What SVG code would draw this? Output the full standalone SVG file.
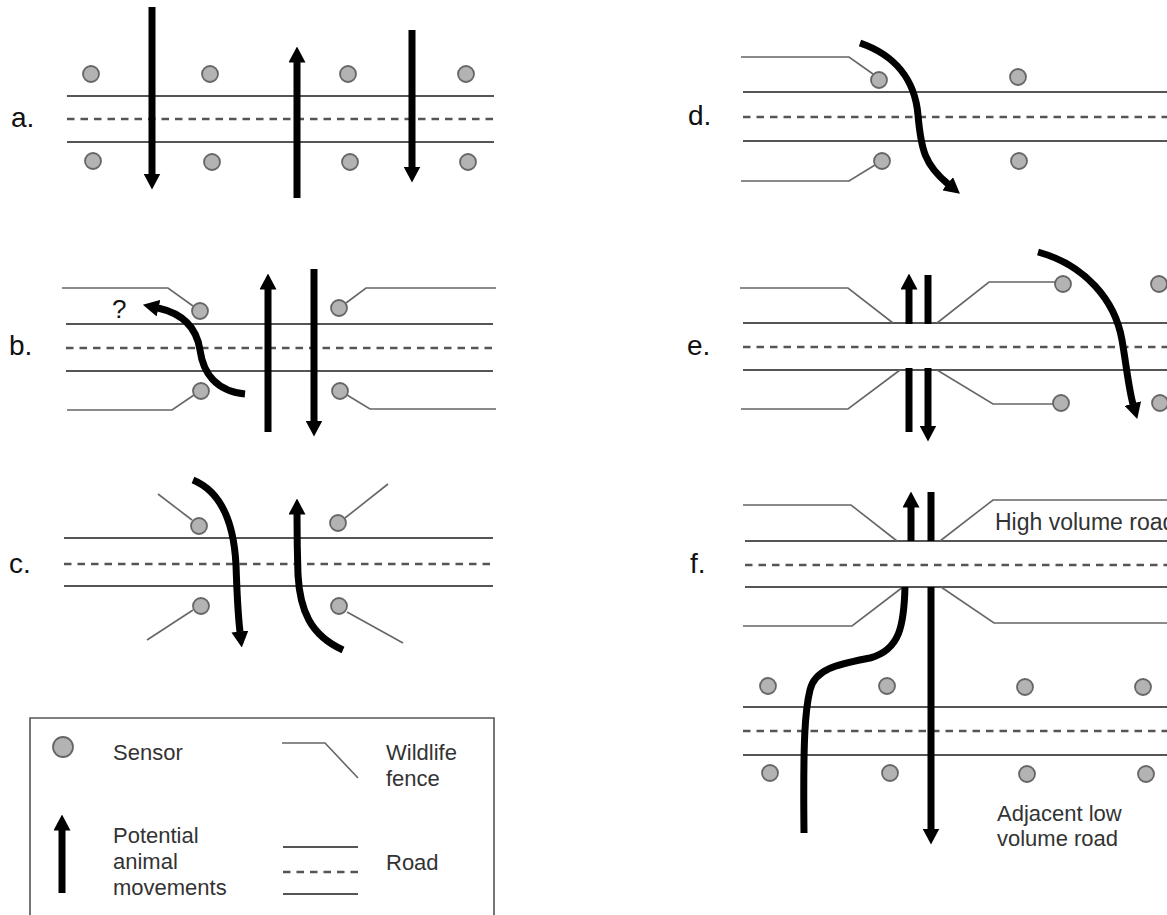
<svg xmlns="http://www.w3.org/2000/svg" width="1167" height="915" viewBox="0 0 1167 915">
<defs>
<marker id="ah" markerUnits="userSpaceOnUse" viewBox="0 0 16 17" markerWidth="16" markerHeight="17" refX="0.5" refY="8.5" orient="auto">
<path d="M0,0 L16,8.5 L0,17 z" fill="#000"/>
</marker>
</defs>
<style>
.road{stroke:#555;stroke-width:2;fill:none}
.dash{stroke:#555;stroke-width:2.5;fill:none;stroke-dasharray:7.5 6}
.fence{stroke:#666;stroke-width:1.6;fill:none}
.sensor{fill:#b3b3b3;stroke:#666;stroke-width:1.8}
.mv{stroke:#000;stroke-width:7;fill:none}
.mvh{stroke:#000;stroke-width:7;fill:none;marker-end:url(#ah)}
.lab{font-family:"Liberation Sans",Arial,sans-serif;font-size:28px;fill:#111}
.txt{font-family:"Liberation Sans",Arial,sans-serif;font-size:22px;fill:#333}
</style>
<rect width="1167" height="915" fill="#fff"/>

<g id="panel-a">
<text class="lab" x="11" y="127">a.</text>
<line class="road" x1="67" y1="96" x2="494" y2="96"/>
<line class="dash" x1="67" y1="119" x2="494" y2="119"/>
<line class="road" x1="67" y1="142" x2="494" y2="142"/>
<circle class="sensor" cx="91" cy="74" r="8"/>
<circle class="sensor" cx="210" cy="74" r="8"/>
<circle class="sensor" cx="348" cy="74" r="8"/>
<circle class="sensor" cx="466" cy="74" r="8"/>
<circle class="sensor" cx="93" cy="161" r="8"/>
<circle class="sensor" cx="212" cy="162" r="8"/>
<circle class="sensor" cx="350" cy="162" r="8"/>
<circle class="sensor" cx="468" cy="162" r="8"/>
</g>

<g id="panel-b">
<text class="lab" x="9" y="355">b.</text>
<line class="road" x1="66" y1="324" x2="493" y2="324"/>
<line class="dash" x1="66" y1="348" x2="493" y2="348"/>
<line class="road" x1="66" y1="371" x2="493" y2="371"/>
<polyline class="fence" points="62,288 168,288 193,306"/>
<polyline class="fence" points="67,410 172,410 194,395"/>
<polyline class="fence" points="346,303 366,288 496,288"/>
<polyline class="fence" points="347,395 370,409 496,409"/>
<circle class="sensor" cx="200" cy="311" r="8"/>
<circle class="sensor" cx="201" cy="391" r="8"/>
<circle class="sensor" cx="339" cy="308" r="8"/>
<circle class="sensor" cx="340" cy="391" r="8"/>
<text class="lab" x="112" y="318" style="font-size:26px">?</text>
</g>

<g id="panel-c">
<text class="lab" x="9" y="573">c.</text>
<line class="road" x1="64" y1="538" x2="493" y2="538"/>
<line class="dash" x1="64" y1="564" x2="493" y2="564"/>
<line class="road" x1="64" y1="586" x2="493" y2="586"/>
<line class="fence" x1="158" y1="494" x2="192" y2="520"/>
<line class="fence" x1="345" y1="518" x2="388" y2="484"/>
<line class="fence" x1="147" y1="640" x2="193" y2="610"/>
<line class="fence" x1="347" y1="612" x2="403" y2="643"/>
<circle class="sensor" cx="199" cy="526" r="8"/>
<circle class="sensor" cx="338" cy="523" r="8"/>
<circle class="sensor" cx="201" cy="606" r="8"/>
<circle class="sensor" cx="339" cy="606" r="8"/>
</g>

<g id="legend">
<path d="M30,918 V718 H494 V918" fill="none" stroke="#555" stroke-width="1.6"/>
<circle class="sensor" cx="63" cy="747" r="10"/>
<text class="txt" x="113" y="760">Sensor</text>
<polyline class="fence" points="282,743 325,743 358,778"/>
<text class="txt" x="386" y="760">Wildlife</text>
<text class="txt" x="386" y="786">fence</text>
<text class="txt" x="113" y="843">Potential</text>
<text class="txt" x="113" y="869">animal</text>
<text class="txt" x="113" y="895">movements</text>
<line class="road" x1="283" y1="847" x2="358" y2="847"/>
<line class="dash" x1="283" y1="872" x2="358" y2="872"/>
<line class="road" x1="283" y1="894" x2="358" y2="894"/>
<text class="txt" x="386" y="870">Road</text>
</g>

<g id="panel-d">
<text class="lab" x="688" y="125">d.</text>
<line class="road" x1="743" y1="92" x2="1167" y2="92"/>
<line class="dash" x1="743" y1="117" x2="1167" y2="117"/>
<line class="road" x1="743" y1="141" x2="1167" y2="141"/>
<polyline class="fence" points="741,57 849,57 873,74"/>
<polyline class="fence" points="741,181 849,181 875,165"/>
<circle class="sensor" cx="879" cy="80" r="8"/>
<circle class="sensor" cx="882" cy="161" r="8"/>
<circle class="sensor" cx="1018" cy="77" r="8"/>
<circle class="sensor" cx="1019" cy="161" r="8"/>
</g>

<g id="panel-e">
<text class="lab" x="687" y="355">e.</text>
<line class="road" x1="743" y1="323" x2="1167" y2="323"/>
<line class="dash" x1="743" y1="347" x2="1167" y2="347"/>
<line class="road" x1="743" y1="370" x2="1167" y2="370"/>
<polyline class="fence" points="740,288 848,288 893,323"/>
<polyline class="fence" points="741,409 848,409 900,370"/>
<polyline class="fence" points="937,323 989,282 1055,282"/>
<polyline class="fence" points="937,370 993,404 1053,404"/>
<circle class="sensor" cx="1063" cy="284" r="8"/>
<circle class="sensor" cx="1061" cy="403" r="8"/>
<circle class="sensor" cx="1159" cy="284" r="8"/>
<circle class="sensor" cx="1160" cy="403" r="8"/>
</g>

<g id="panel-f">
<text class="lab" x="690" y="573">f.</text>
<line class="road" x1="745" y1="541" x2="1167" y2="541"/>
<line class="dash" x1="745" y1="565" x2="1167" y2="565"/>
<line class="road" x1="745" y1="587" x2="1167" y2="587"/>
<polyline class="fence" points="743,505 851,505 897,541"/>
<polyline class="fence" points="940,541 993,500 1167,500"/>
<polyline class="fence" points="743,626 852,626 903,587"/>
<polyline class="fence" points="941,587 994,623 1167,623"/>
<text class="txt" x="995" y="530" style="font-size:23px">High volume road</text>
<line class="road" x1="743" y1="707" x2="1167" y2="707"/>
<line class="dash" x1="743" y1="731" x2="1167" y2="731"/>
<line class="road" x1="743" y1="755" x2="1167" y2="755"/>
<circle class="sensor" cx="768" cy="686" r="8"/>
<circle class="sensor" cx="887" cy="686" r="8"/>
<circle class="sensor" cx="1025" cy="687" r="8"/>
<circle class="sensor" cx="1143" cy="687" r="8"/>
<circle class="sensor" cx="770" cy="773" r="8"/>
<circle class="sensor" cx="890" cy="773" r="8"/>
<circle class="sensor" cx="1027" cy="774" r="8"/>
<circle class="sensor" cx="1146" cy="774" r="8"/>
<text class="txt" x="997" y="821">Adjacent low</text>
<text class="txt" x="997" y="846">volume road</text>
</g>

<g id="connectors">
<path class="mvh" d="M152,7 V174"/>
<path class="mvh" d="M297,198 V62"/>
<path class="mvh" d="M412,30 V167"/>
<path class="mvh" d="M268,432 V289"/>
<path class="mvh" d="M314,269 V421"/>
<path class="mvh" d="M245,394 C215,391 203,372 200,350 C197,330 185,314 158,308"/>
<path class="mvh" d="M193,480 C222,492 234,525 236,565 C237,595 238,615 240,632"/>
<path class="mvh" d="M343,650 C310,635 300,610 298,575 C297,545 297,530 297,514"/>
<path class="mvh" d="M62,893 V830"/>
<path class="mvh" d="M860,43 C895,55 915,80 918,115 C921,150 925,165 948,184"/>
<path class="mv" d="M909,432 V368"/>
<path class="mvh" d="M909,324 V289"/>
<path class="mv" d="M928,275 V324"/>
<path class="mvh" d="M928,368 V426"/>
<path class="mvh" d="M1038,252 C1085,265 1115,300 1122,340 C1127,370 1129,390 1133,404"/>
<path class="mvh" d="M911,541 V507"/>
<path class="mv" d="M931,492 V541"/>
<path class="mv" d="M905,587 C904,625 900,650 870,658 C840,664 815,668 810,690 C805,710 803,740 804,833"/>
<path class="mvh" d="M931,587 V829"/>
</g>
</svg>
